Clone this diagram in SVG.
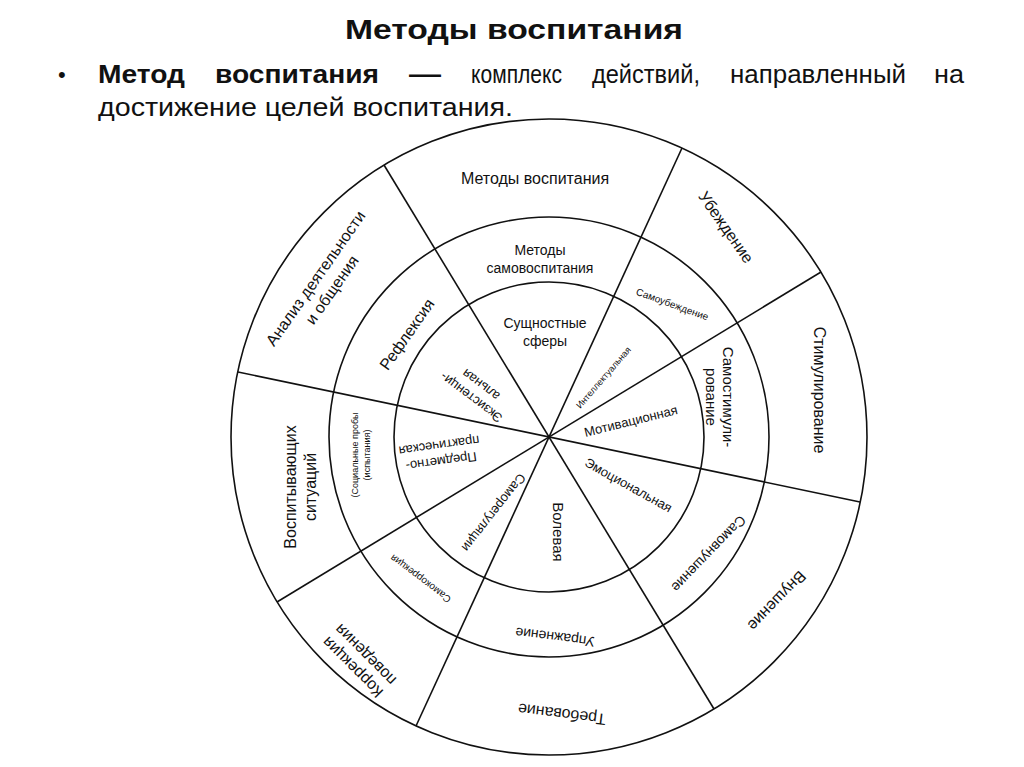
<svg xmlns="http://www.w3.org/2000/svg" width="1024" height="767" viewBox="0 0 1024 767">
<style>
.h{font-family:"Liberation Sans",Arial,sans-serif;fill:#111}
.t{font-family:"Liberation Sans",Arial,sans-serif;fill:#111;text-anchor:middle;dominant-baseline:middle}
.ln{fill:none;stroke:#111;stroke-width:1.6}
</style>
<rect width="1024" height="767" fill="#fff"/>
<text class="h" x="345" y="39" font-size="28" font-weight="bold" textLength="338" lengthAdjust="spacingAndGlyphs">Методы воспитания</text>
<text class="h" x="58" y="82" font-size="22">•</text>
<g class="h" font-size="25">
<text x="98" y="83" font-weight="bold" textLength="87" lengthAdjust="spacingAndGlyphs">Метод</text>
<text x="215" y="83" font-weight="bold" textLength="164" lengthAdjust="spacingAndGlyphs">воспитания</text>
<text x="409" y="83" font-weight="bold" textLength="32" lengthAdjust="spacingAndGlyphs">—</text>
<text x="471" y="83" textLength="91" lengthAdjust="spacingAndGlyphs">комплекс</text>
<text x="592" y="83" textLength="108" lengthAdjust="spacingAndGlyphs">действий,</text>
<text x="730" y="83" textLength="176" lengthAdjust="spacingAndGlyphs">направленный</text>
<text x="934" y="83" textLength="30" lengthAdjust="spacingAndGlyphs">на</text>
<text x="98" y="116" textLength="415" lengthAdjust="spacingAndGlyphs">достижение целей воспитания.</text>
</g>
<g id="connectors">
<circle class="ln" cx="549" cy="437" r="318"/>
<circle class="ln" cx="549" cy="437" r="220"/>
<circle class="ln" cx="549" cy="437" r="155"/>
<line class="ln" x1="384" y1="165" x2="714" y2="709"/>
<line class="ln" x1="682" y1="148" x2="416" y2="726"/>
<line class="ln" x1="821" y1="272" x2="277" y2="602"/>
<line class="ln" x1="860" y1="502" x2="238" y2="372"/>
</g>
<g id="outer" font-size="16">
<g id="o1"><text class="t" x="535" y="180">Методы воспитания</text></g>
<g id="o2"><text class="t" transform="translate(725,228) rotate(55)">Убеждение</text></g>
<g id="o3"><text class="t" transform="translate(818,390) rotate(90)">Стимулирование</text></g>
<g id="o4"><text class="t" transform="translate(776,600) rotate(134)">Внушение</text></g>
<g id="o5"><text class="t" transform="translate(562,713) rotate(187)">Требование</text></g>
<g id="o6"><text class="t" transform="translate(360,660) rotate(225)"><tspan x="0" y="-9">Коррекция</tspan><tspan x="0" y="9">поведения</tspan></text></g>
<g id="o7"><text class="t" transform="translate(302,487) rotate(-90)"><tspan x="0" y="-10">Воспитывающих</tspan><tspan x="0" y="10">ситуаций</tspan></text></g>
<g id="o8"><text class="t" transform="translate(325,285) rotate(-55)"><tspan x="0" y="-10">Анализ деятельности</tspan><tspan x="0" y="10">и общения</tspan></text></g>
</g>
<g id="middle" font-size="14">
<g id="m1"><text class="t" transform="translate(540,260)"><tspan x="0" y="-9">Методы</tspan><tspan x="0" y="9">самовоспитания</tspan></text></g>
<g id="m2"><text class="t" font-size="10" transform="translate(672,305) rotate(20)">Самоубеждение</text></g>
<g id="m3"><text class="t" font-size="15" transform="translate(727,397) rotate(90)"><tspan x="0" y="0">Самостимули-</tspan><tspan x="0" y="17">рование</tspan></text></g>
<g id="m4"><text class="t" transform="translate(708,553) rotate(134)">Самовнушение</text></g>
<g id="m5"><text class="t" transform="translate(555,636) rotate(187)">Упражнение</text></g>
<g id="m6"><text class="t" font-size="10" transform="translate(421,578) rotate(217)">Самокоррекция</text></g>
<g id="m7"><text class="t" font-size="9" transform="translate(362,455) rotate(-90)"><tspan x="0" y="-6">(Социальные пробы</tspan><tspan x="0" y="6">(испытания)</tspan></text></g>
<g id="m8"><text class="t" font-size="16" transform="translate(408,335) rotate(-55)">Рефлексия</text></g>
</g>
<g id="inner" font-size="13">
<g id="i1"><text class="t" font-size="14" transform="translate(545,333)"><tspan x="0" y="-9">Сущностные</tspan><tspan x="0" y="9">сферы</tspan></text></g>
<g id="i2"><text class="t" font-size="9" transform="translate(604,378) rotate(-49)">Интеллектуальная</text></g>
<g id="i3"><text class="t" transform="translate(631,422) rotate(-14)">Мотивационная</text></g>
<g id="i4"><text class="t" transform="translate(628,486) rotate(29)">Эмоциональная</text></g>
<g id="i5"><text class="t" font-size="15" transform="translate(557,532) rotate(90)">Волевая</text></g>
<g id="i6"><text class="t" transform="translate(493,512) rotate(128)">Саморегуляции</text></g>
<g id="i7"><text class="t" transform="translate(440,452) rotate(172)"><tspan x="0" y="-8">Предметно-</tspan><tspan x="0" y="8">практическая</tspan></text></g>
<g id="i8"><text class="t" transform="translate(477,390) rotate(217)"><tspan x="0" y="-8">Экзистенци-</tspan><tspan x="0" y="8">альная</tspan></text></g>
</g>
</svg>
